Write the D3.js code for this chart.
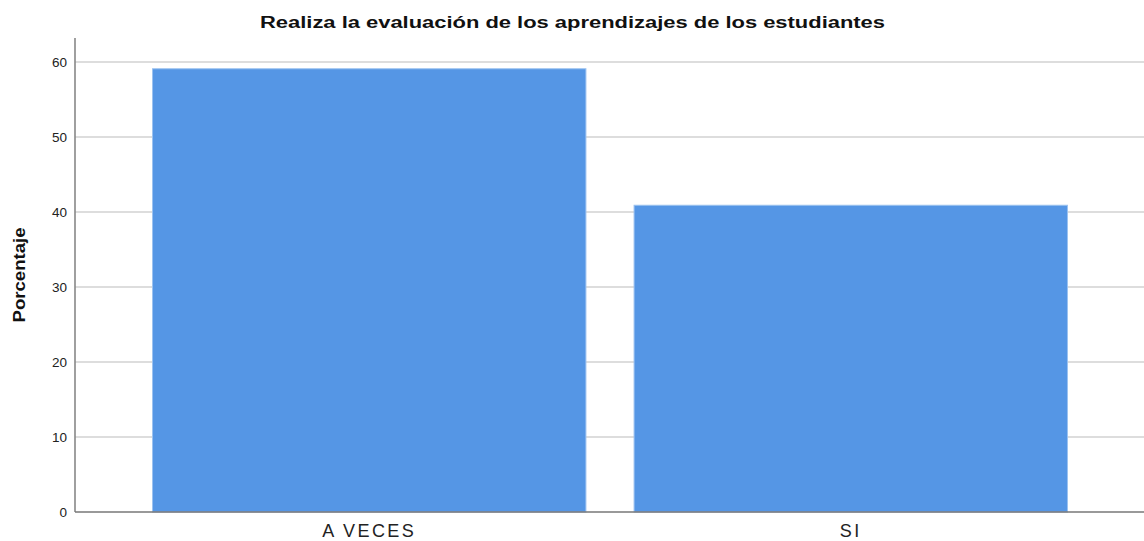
<!DOCTYPE html>
<html lang="es">
<head>
    <meta charset="UTF-8">
    <title>Realiza la evaluación</title>
    <style>
        body { margin: 0; background: #fff; }
        text { font-family: "Liberation Sans", Arial, sans-serif; }
    </style>
</head>
<body>
    <div class="canvas"></div>
    <script src="https://cdnjs.cloudflare.com/ajax/libs/d3/7.8.2/d3.min.js"></script>
    <script>
        const categories = ["A VECES", "SI"];
        const values = [59.1, 40.9];
        const yTicks = [0, 10, 20, 30, 40, 50, 60];
        const title = "Realiza la evaluación de los aprendizajes de los estudiantes";
        const yLabel = "Porcentaje";

        const width = 1144;
        const height = 541;
        const margin = { top: 38, bottom: 29, left: 75, right: -1 };

        const svg = d3.select(".canvas").append("svg")
            .attr("width", width)
            .attr("height", height);

        const x = d3.scaleBand()
            .domain(categories)
            .range([margin.left, width - margin.right])
            .paddingInner(0.1)
            .paddingOuter(0.161);

        const y = d3.scaleLinear()
            .domain([0, 63.2])
            .range([height - margin.bottom, margin.top]);

        // gridlines
        svg.append("g").selectAll("line")
            .data(yTicks.filter(d => d > 0))
            .enter().append("line")
            .attr("x1", margin.left)
            .attr("x2", width)
            .attr("y1", d => y(d))
            .attr("y2", d => y(d))
            .attr("stroke", "#d2d2d2")
            .attr("stroke-width", 1.5);

        // bars
        svg.append("g").selectAll("rect")
            .data(values)
            .enter().append("rect")
            .attr("x", (d, i) => x(categories[i]))
            .attr("width", x.bandwidth())
            .attr("y", d => y(d))
            .attr("height", d => y(0) - y(d))
            .attr("fill", "#5596e5")
            .attr("stroke", "#9cc2f0")
            .attr("stroke-width", 1);

        // y axis
        const yAxis = d3.axisLeft(y).tickValues(yTicks).tickSize(0).tickPadding(8);
        const yg = svg.append("g")
            .attr("transform", `translate(${margin.left},0)`)
            .call(yAxis);
        yg.select(".domain").remove();
        yg.selectAll("text")
            .attr("font-size", "13.5px")
            .attr("fill", "#222")
            .style("font-family", "'Liberation Sans', Arial, sans-serif");

        svg.append("line")
            .attr("x1", margin.left).attr("x2", margin.left)
            .attr("y1", margin.top).attr("y2", y(0))
            .attr("stroke", "#888").attr("stroke-width", 1.6);

        // x axis
        const xAxis = d3.axisBottom(x).tickSize(0).tickPadding(12);
        const xg = svg.append("g")
            .attr("transform", `translate(0,${y(0)})`)
            .call(xAxis);
        xg.select(".domain").remove();
        xg.selectAll("text")
            .attr("font-size", "18px")
            .attr("fill", "#222")
            .attr("letter-spacing", "2.4px")
            .style("font-family", "'Liberation Sans', Arial, sans-serif");

        svg.append("line")
            .attr("x1", margin.left).attr("x2", width)
            .attr("y1", y(0)).attr("y2", y(0))
            .attr("stroke", "#777").attr("stroke-width", 1.6);

        // title
        svg.append("text")
            .attr("x", 572.5)
            .attr("y", 28)
            .attr("text-anchor", "middle")
            .attr("font-size", "16px")
            .attr("font-weight", "bold")
            .attr("fill", "#111")
            .attr("textLength", 625)
            .attr("lengthAdjust", "spacingAndGlyphs")
            .text(title);

        // y label
        svg.append("text")
            .attr("transform", "translate(25, 275) rotate(-90)")
            .attr("text-anchor", "middle")
            .attr("font-size", "16.5px")
            .attr("font-weight", "bold")
            .attr("fill", "#111")
            .attr("textLength", 95)
            .attr("lengthAdjust", "spacingAndGlyphs")
            .text(yLabel);
    </script>
</body>
</html>
